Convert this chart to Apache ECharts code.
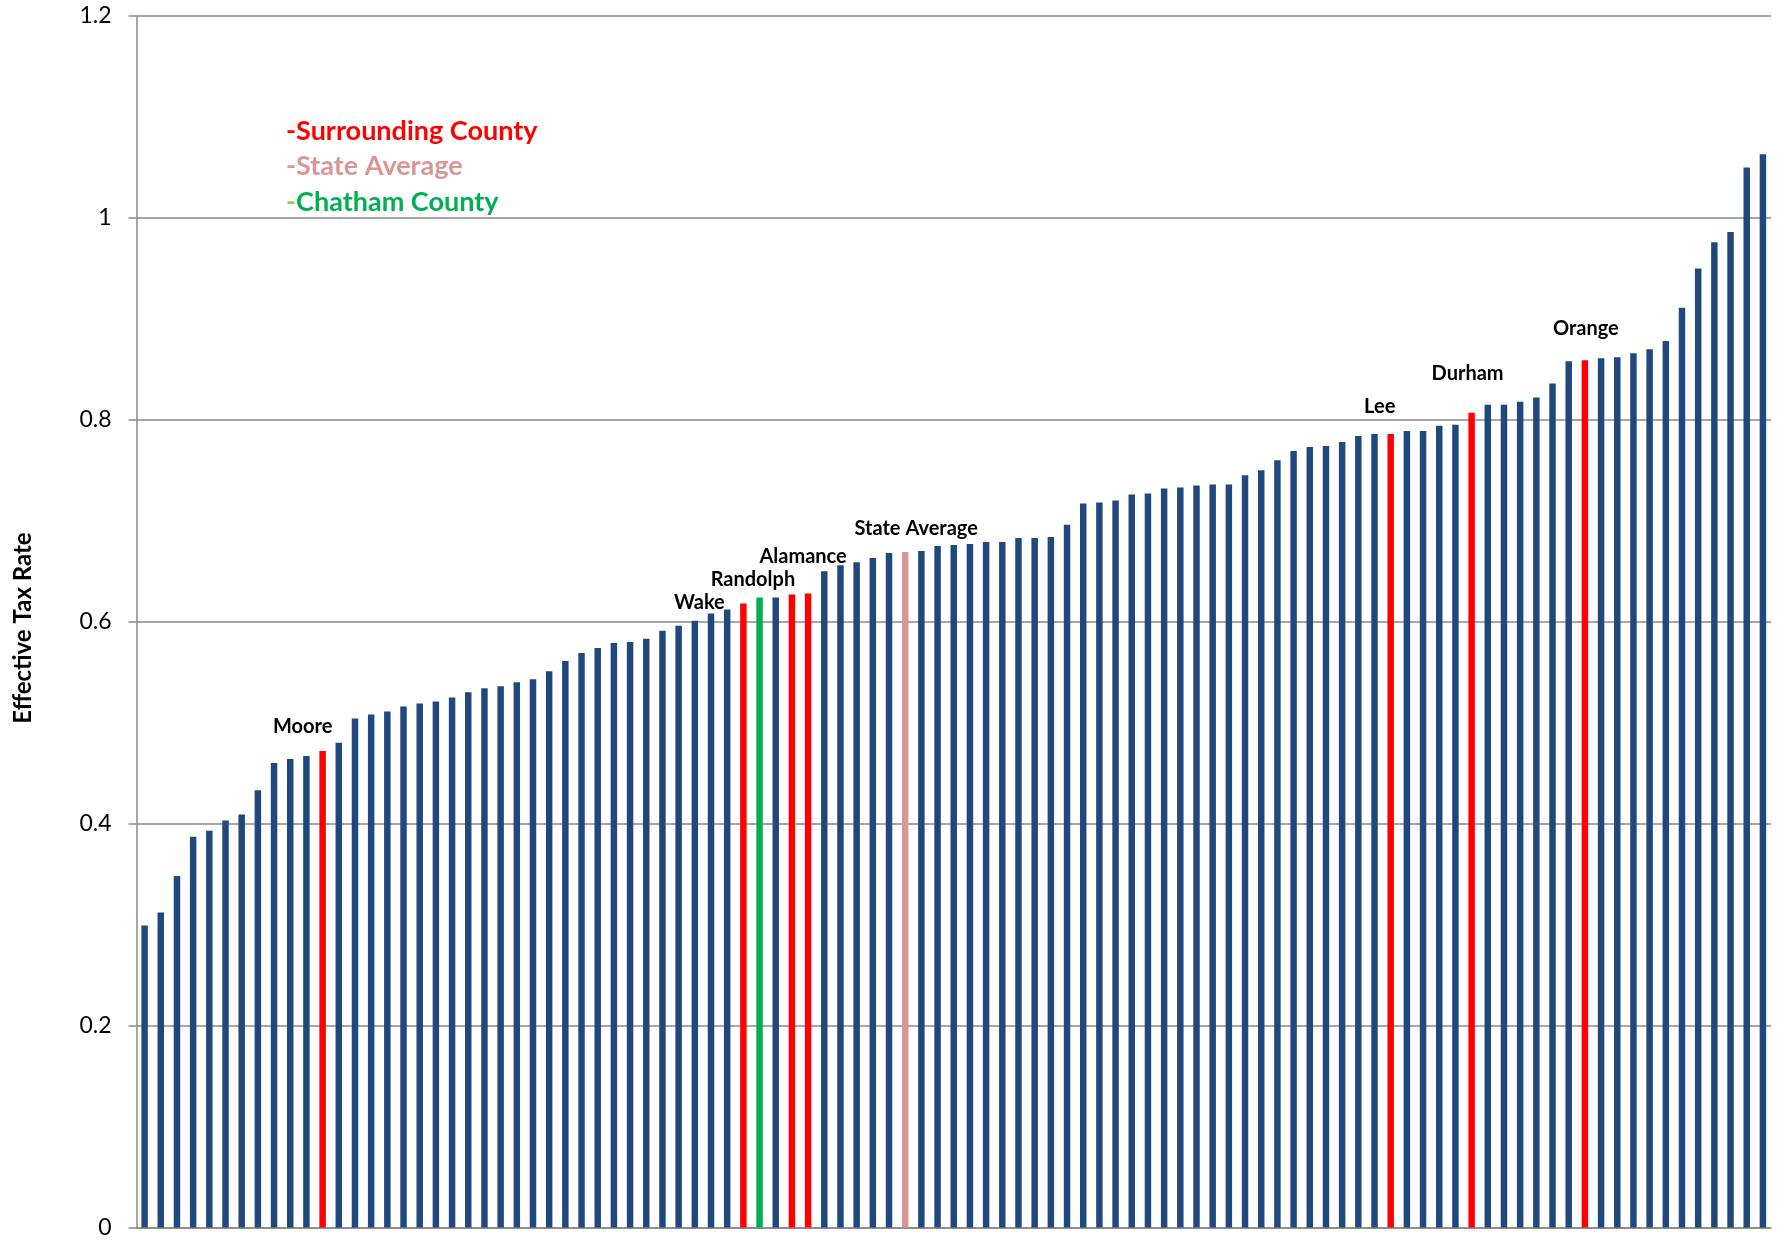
<!DOCTYPE html>
<html>
<head>
<meta charset="utf-8">
<script src="https://cdn.jsdelivr.net/npm/echarts@6/dist/echarts.min.js"></script>
<style>
  html, body { margin: 0; padding: 0; background: #fff; }
  #chart { width: 1791px; height: 1248px; }
</style>
</head>
<body>
<div id="chart"></div>
<script>
// effective tax rate, counties ranked low -> high (state average included)
const rates = [
  0.299, 0.312, 0.348, 0.387, 0.393, 0.403, 0.409, 0.433, 0.460, 0.464,
  0.467, 0.472, 0.480, 0.504, 0.508, 0.511, 0.516, 0.519, 0.521, 0.525,
  0.530, 0.534, 0.536, 0.540, 0.543, 0.551, 0.561, 0.569, 0.574, 0.579,
  0.580, 0.583, 0.591, 0.596, 0.601, 0.608, 0.612, 0.618, 0.624, 0.624,
  0.627, 0.628, 0.650, 0.656, 0.659, 0.663, 0.668, 0.669, 0.670, 0.675,
  0.676, 0.677, 0.679, 0.679, 0.683, 0.683, 0.684, 0.696, 0.717, 0.718,
  0.720, 0.726, 0.727, 0.732, 0.733, 0.735, 0.736, 0.736, 0.745, 0.750,
  0.760, 0.769, 0.773, 0.774, 0.778, 0.784, 0.786, 0.786, 0.789, 0.789,
  0.794, 0.795, 0.807, 0.815, 0.815, 0.818, 0.822, 0.836, 0.858, 0.859,
  0.861, 0.862, 0.866, 0.870, 0.878, 0.911, 0.950, 0.976, 0.986, 1.050,
  1.063
]
const ranks = rates.map((_, i) => String(i + 1))

// rank positions (1-based) of the named bars
const surrounding = { 12: 'Moore', 38: 'Wake', 41: 'Randolph', 42: 'Alamance', 78: 'Lee', 83: 'Durham', 90: 'Orange' }
const stateAverage = { 48: 'State Average' }
const chathamRank = 39

const yTicks = [0, 0.2, 0.4, 0.6, 0.8, 1, 1.2]

// label offsets from the bar top (px), annotation placement only
const labelOffsets = {
  Moore: [-20, -24], Wake: [-44, -1], Randolph: [-39, -15], Alamance: [-5, -37],
  'State Average': [11, -23], Lee: [-11, -27], Durham: [-4, -39], Orange: [1, -32]
}

const BLUE = '#1F497D'
const RED = '#FF0000'
const PINK = '#D99694'
const GREEN = '#00B050'
const FONT = 'Lato, "Open Sans", sans-serif'
const LEGEND_FONT = 'bold 27px ' + FONT

const barData = rates.map((v, i) => {
  const rank = i + 1
  let color = BLUE
  let name = null
  if (surrounding[rank]) { color = RED; name = surrounding[rank] }
  if (stateAverage[rank]) { color = PINK; name = stateAverage[rank] }
  if (rank === chathamRank) color = GREEN
  const item = { value: v, itemStyle: { color } }
  if (name) {
    item.label = {
      show: true,
      position: 'top',
      distance: 0,
      align: 'center',
      verticalAlign: 'middle',
      offset: labelOffsets[name],
      formatter: name,
      color: '#000',
      fontFamily: FONT,
      fontWeight: 'bold',
      fontSize: 20
    }
  }
  return item
})

const chart = echarts.init(document.getElementById('chart'))

chart.setOption({
  animation: false,
  backgroundColor: '#fff',
  grid: { left: 136.5, right: 20, top: 16, bottom: 20.6 },
  xAxis: {
    type: 'category',
    data: ranks,
    axisLine: { lineStyle: { color: '#888', width: 1.5 } },
    axisTick: { show: false },
    axisLabel: { show: false }
  },
  yAxis: {
    type: 'value',
    min: yTicks[0],
    max: yTicks[yTicks.length - 1],
    interval: 0.2,
    axisLine: { show: true, lineStyle: { color: '#888', width: 1.5 } },
    axisTick: { show: true, length: 8, lineStyle: { color: '#888', width: 1.5 } },
    axisLabel: { margin: 25, fontFamily: FONT, fontSize: 23, color: '#000' },
    splitLine: { lineStyle: { color: '#888', width: 1.5 } }
  },
  series: [{
    type: 'bar',
    data: barData,
    barWidth: '40%',
    label: { show: false }
  }],
  graphic: [
    {
      // y axis title
      type: 'text', x: 23, y: 628, rotation: Math.PI / 2,
      style: { text: 'Effective Tax Rate', fill: '#000', font: 'bold 24px ' + FONT, align: 'center', verticalAlign: 'middle' }
    },
    {
      type: 'text', x: 286, y: 131,
      style: { text: '-Surrounding County', fill: RED, font: LEGEND_FONT, verticalAlign: 'middle' }
    },
    {
      type: 'text', x: 286, y: 166,
      style: { text: '-State Average', fill: PINK, font: LEGEND_FONT, verticalAlign: 'middle' }
    },
    {
      type: 'text', x: 286, y: 202,
      style: {
        text: '{d|-}{t|Chatham County}',
        font: LEGEND_FONT,
        verticalAlign: 'middle',
        rich: {
          d: { fill: '#92D050', font: LEGEND_FONT },
          t: { fill: GREEN, font: LEGEND_FONT }
        }
      }
    }
  ]
})

window.addEventListener('resize', () => chart.resize())
</script>
</body>
</html>
